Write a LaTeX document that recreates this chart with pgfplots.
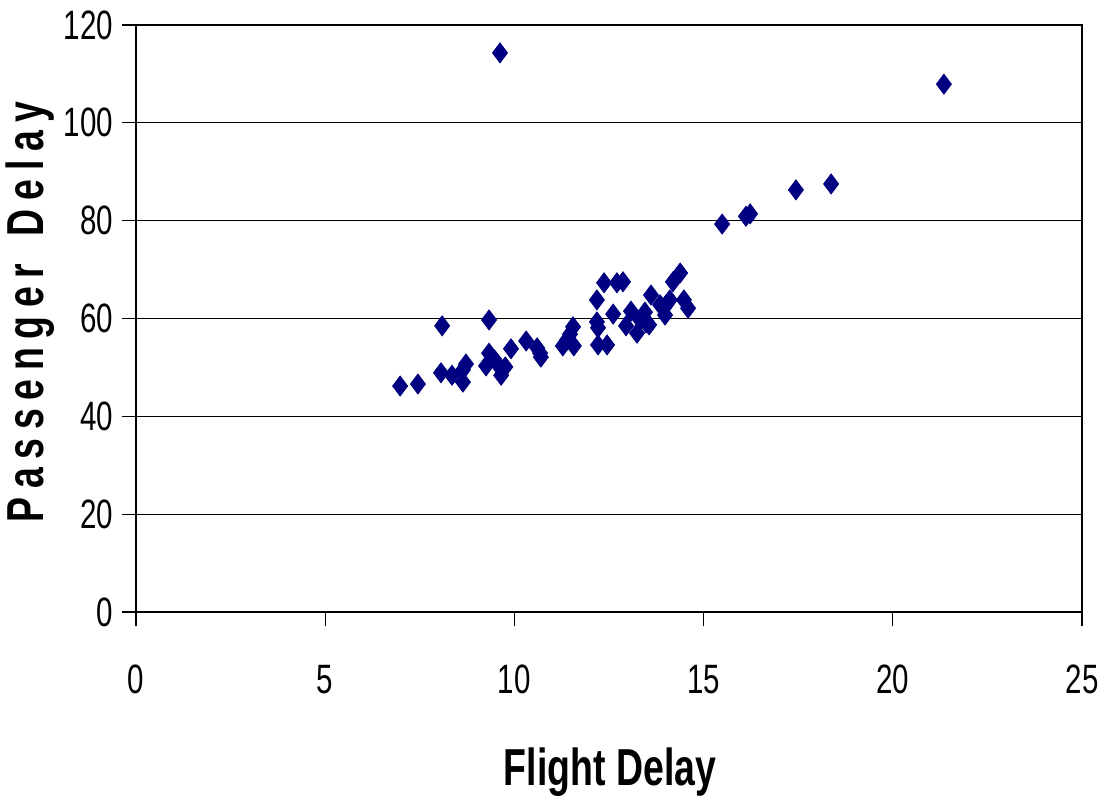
\documentclass[border=0pt]{standalone}
\usepackage{fontspec}
\setmainfont{Liberation Sans}[FakeStretch=0.72]
\usepackage{pgfplots}
\pgfplotsset{compat=1.18}
\definecolor{navy}{RGB}{0,0,128}
\begin{document}
\begin{tikzpicture}
\path[use as bounding box] (-68pt,-92.5pt) rectangle (488.5pt,306pt);
\begin{axis}[
  at={(0,0)}, anchor=south west,
  scale only axis, width=473pt, height=293.5pt,
  xmin=0, xmax=25, ymin=0, ymax=120,
  xtick={0,5,...,25}, ytick={0,20,...,120},
  xtick pos=bottom, ytick pos=left,
  ymajorgrids, major grid style={black, line width=0.6pt},
  axis line style={black, line width=0.6pt},
  tick style={black, line width=0.6pt},
  tick align=outside, major tick length=7pt,
  xticklabel style={yshift=-16pt},
  yticklabel style={xshift=-1pt},
  ticklabel style={font=\fontsize{20.5}{24}\selectfont},
  /pgf/number format/assume math mode=true,
  xlabel={\textbf{Flight Delay}},
  xlabel style={font=\fontsize{26}{30}\selectfont, at={(237pt,-80pt)}, anchor=center},
  ylabel={\textbf{P\,a\,s\,s\,e\,n\,g\,e\,r\, \,D\,e\,l\,a\,y}},
  ylabel style={font=\fontsize{26}{30}\selectfont, at={(-53pt,150pt)}, anchor=center, rotate=0},
  clip=false,
]
\addplot[only marks, mark=diamond*, mark size=5pt, color=navy] coordinates {
(6.98,46.2) (7.45,46.6) (8.09,58.5) (8.06,48.9) (8.35,48.4) (8.64,47.0)
(8.64,49.5) (8.72,50.7) (9.33,59.7) (9.33,52.9) (9.25,50.3) (9.48,51.5)
(9.62,114.3) (9.65,48.4) (9.76,50.1) (9.57,50.5) (9.91,53.8) (10.31,55.4)
(10.60,54.0) (10.68,52.9) (10.70,52.1) (11.28,54.4) (11.39,55.6) (11.47,56.8)
(11.55,58.3) (11.57,54.4) (12.18,63.8) (12.18,59.3) (12.21,58.1) (12.21,54.6)
(12.37,67.3) (12.45,54.6) (12.61,60.9) (12.71,67.3) (12.87,67.5) (12.95,58.5)
(13.08,61.5) (13.24,57.0) (13.32,59.7) (13.45,61.3) (13.48,59.1) (13.56,58.7)
(13.61,64.8) (13.85,62.8) (13.98,60.7) (14.01,62.8) (14.11,63.8) (14.19,67.5)
(14.38,69.3) (14.48,63.8) (14.59,62.1) (15.49,79.3) (16.12,80.9) (16.23,81.4)
(17.44,86.3) (18.37,87.5) (21.35,107.9)
};
\end{axis}
\end{tikzpicture}
\end{document}
